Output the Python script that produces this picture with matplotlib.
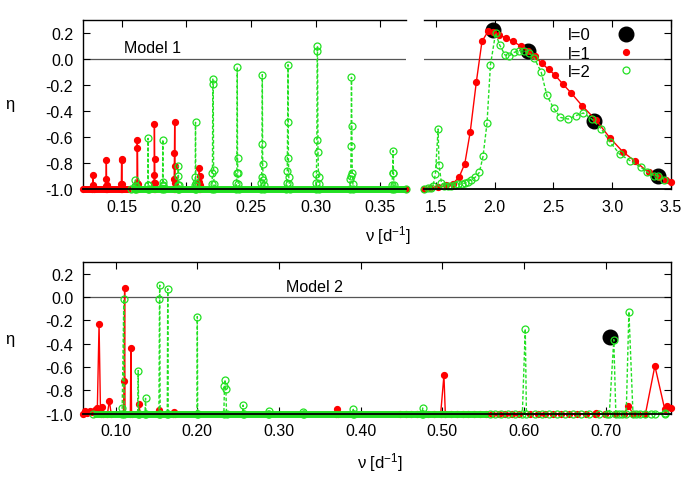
import matplotlib
matplotlib.use('Agg')
import matplotlib.pyplot as plt
from matplotlib.lines import Line2D

plt.rcParams['font.family'] = ['Liberation Sans', 'DejaVu Sans']
plt.rcParams['axes.unicode_minus'] = False
plt.rcParams['mathtext.default'] = 'regular'

RED = '#ff0000'
GREEN = '#22e022'

# ---------------- Model 1, low frequencies ----------------
m1lo_l1_x = [0.1200,
             0.1273, 0.1275, 0.1278, 0.1281, 0.1283,
             0.1375, 0.1377, 0.1379, 0.1381, 0.1383, 0.1385,
             0.1495, 0.1497, 0.1499, 0.1501, 0.1503, 0.1505,
             0.1616, 0.1618, 0.1620, 0.1622, 0.1624, 0.1626,
             0.1747, 0.1749, 0.1751, 0.1753, 0.1755, 0.1757, 0.1759,
             0.1904, 0.1906, 0.1908, 0.1910, 0.1912, 0.1914, 0.1916,
             0.2096, 0.2098, 0.2100, 0.2102, 0.2104, 0.2106,
             0.3700]
m1lo_l1_y = [-1.0,
             -1.0, -0.97, -0.892, -0.975, -1.0,
             -1.0, -0.975, -0.923, -0.774, -0.97, -1.0,
             -1.0, -0.96, -0.775, -0.769, -0.96, -1.0,
             -1.0, -0.95, -0.626, -0.687, -0.96, -1.0,
             -1.0, -0.95, -0.89, -0.50, -0.769, -0.95, -1.0,
             -1.0, -0.923, -0.723, -0.482, -0.82, -0.95, -1.0,
             -1.0, -0.944, -0.838, -0.897, -0.97, -1.0,
             -1.0]
m1lo_l1_band = [0.120, 0.157]

m1lo_l2_x = [0.1570,
             0.1602, 0.1604, 0.1606, 0.1608, 0.1610,
             0.1700, 0.1702, 0.1704, 0.1706, 0.1708,
             0.1814, 0.1816, 0.1818, 0.1820, 0.1822, 0.1824,
             0.1932, 0.1934, 0.1936, 0.1938, 0.1940, 0.1942,
             0.2065, 0.2067, 0.2069, 0.2071, 0.2073, 0.2075, 0.2077,
             0.2196, 0.2199, 0.2202, 0.2205, 0.2208, 0.2211, 0.2214, 0.2217,
             0.2385, 0.2388, 0.2391, 0.2394, 0.2396, 0.2399, 0.2402, 0.2405,
             0.2577, 0.2580, 0.2583, 0.2586, 0.2588, 0.2591, 0.2594, 0.2598, 0.2601,
             0.2775, 0.2778, 0.2781, 0.2784, 0.2787, 0.2790, 0.2793, 0.2797, 0.2800,
             0.3000, 0.3003, 0.3007, 0.3010, 0.3013, 0.3015, 0.3019, 0.3023, 0.3027, 0.3030,
             0.3265, 0.3268, 0.3272, 0.3275, 0.3278, 0.3281, 0.3284, 0.3289, 0.3292,
             0.3589, 0.3592, 0.3596, 0.3600, 0.3603, 0.3607, 0.3610,
             0.3700]
m1lo_l2_y = [-1.0,
             -1.0, -0.98, -0.93, -0.98, -1.0,
             -1.0, -0.97, -0.61, -0.97, -1.0,
             -1.0, -0.97, -0.62, -0.944, -0.98, -1.0,
             -1.0, -0.97, -0.897, -0.82, -0.97, -1.0,
             -1.0, -0.97, -0.905, -0.487, -0.95, -0.98, -1.0,
             -1.0, -0.96, -0.88, -0.154, -0.192, -0.854, -0.96, -1.0,
             -1.0, -0.95, -0.88, -0.064, -0.764, -0.88, -0.96, -1.0,
             -1.0, -0.95, -0.91, -0.656, -0.12, -0.808, -0.93, -0.97, -1.0,
             -1.0, -0.95, -0.862, -0.482, -0.044, -0.759, -0.91, -0.96, -1.0,
             -1.0, -0.95, -0.885, -0.626, 0.062, 0.10, -0.718, -0.905, -0.96, -1.0,
             -1.0, -0.92, -0.897, -0.667, -0.141, -0.518, -0.877, -0.96, -1.0,
             -1.0, -0.97, -0.877, -0.705, -0.877, -0.97, -1.0,
             -1.0]
m1lo_l2_band = [0.157, 0.370]

# ---------------- Model 1, high frequencies ----------------
m1hi_l0_x = [1.985, 2.285, 2.845, 3.388]
m1hi_l0_y = [0.220, 0.062, -0.480, -0.900]

m1hi_l1_x = [1.40, 1.45, 1.52, 1.59, 1.643, 1.698, 1.747, 1.793, 1.845, 1.893,
             1.945, 1.985, 2.037, 2.095, 2.158, 2.222, 2.284, 2.342, 2.402,
             2.46, 2.51, 2.578, 2.649, 2.747, 2.865, 2.982, 3.09, 3.195, 3.31,
             3.40, 3.46, 3.50]
m1hi_l1_y = [-1.0, -0.995, -0.987, -0.97, -0.96, -0.91, -0.805, -0.562,
             -0.177, 0.135, 0.213, 0.21, 0.186, 0.163, 0.135, 0.10, 0.06,
             0.02, -0.033, -0.08, -0.12, -0.19, -0.259, -0.362, -0.472,
             -0.608, -0.713, -0.787, -0.872, -0.905, -0.933, -0.945]

m1hi_l2_x = [1.40, 1.43, 1.46, 1.477, 1.497, 1.52, 1.528, 1.548, 1.57, 1.60,
             1.63, 1.66, 1.69, 1.72, 1.745, 1.77, 1.80, 1.835, 1.871, 1.902,
             1.936, 1.965, 2.009, 2.043, 2.089, 2.123, 2.166, 2.21, 2.248,
             2.29, 2.339, 2.397, 2.445, 2.503, 2.56, 2.626, 2.69, 2.755,
             2.827, 2.908, 2.98, 3.063, 3.152, 3.244, 3.30, 3.353, 3.393,
             3.445]
m1hi_l2_y = [-1.0, -0.995, -0.99, -0.974, -0.885, -0.538, -0.815, -0.95,
             -0.975, -0.975, -0.975, -0.97, -0.965, -0.96, -0.955, -0.945,
             -0.93, -0.91, -0.872, -0.749, -0.492, -0.046, 0.20, 0.108, 0.031,
             0.023, 0.051, 0.064, 0.064, 0.05, 0.005, -0.103, -0.28, -0.38,
             -0.449, -0.462, -0.436, -0.415, -0.462, -0.538, -0.636, -0.731,
             -0.782, -0.833, -0.87, -0.897, -0.90, -0.928]

# ---------------- Model 2 ----------------
m2_l0_x = [0.7054]
m2_l0_y = [-0.344]

m2_l1_x = [0.0600, 0.0624, 0.0650, 0.0680, 0.0707, 0.0747, 0.0776, 0.0797,
           0.0815, 0.0833, 0.0850, 0.0900, 0.0923, 0.0945, 0.1095, 0.1105,
           0.1110, 0.1115, 0.1180, 0.1187, 0.1195, 0.1280, 0.1289, 0.1298,
           0.1520, 0.1530, 0.1540, 0.1705, 0.1715, 0.1725, 0.3700, 0.3710,
           0.3720, 0.4980, 0.5020, 0.5037, 0.6866, 0.6876, 0.6886, 0.7220,
           0.7280, 0.7335, 0.7488, 0.7603, 0.7723, 0.7756, 0.7800]
m2_l1_y = [-1.0, -0.98, -0.99, -0.975, -0.989, -0.966, -0.954, -0.229,
           -1.0, -0.945, -1.0, -1.0, -0.888, -1.0, -1.0, -0.716,
           0.080, -1.0, -1.0, -0.436, -1.0, -1.0, -0.917, -1.0,
           -1.0, -0.970, -1.0, -1.0, -0.986, -1.0, -1.0, -0.957,
           -1.0, -1.0, -0.671, -1.0, -1.0, -0.994, -1.0, -1.0,
           -0.937, -1.0, -1.0, -0.590, -0.960, -0.937, -0.950]
m2_l1_floor_x = [0.448, 0.455, 0.462, 0.469, 0.476, 0.483, 0.490, 0.511,
                 0.518, 0.525, 0.532, 0.539, 0.546, 0.553, 0.561, 0.569,
                 0.577, 0.585, 0.594, 0.608, 0.617, 0.626, 0.635, 0.645,
                 0.655, 0.665, 0.676, 0.699, 0.711, 0.740]

m2_l2_x = [0.0726, 0.1075, 0.1080, 0.1100, 0.1105, 0.1270, 0.1276, 0.1282,
           0.1360, 0.1366, 0.1372, 0.1530, 0.1537, 0.1540, 0.1545, 0.1632,
           0.1638, 0.1644, 0.1995, 0.2000, 0.2005, 0.2325, 0.2333, 0.2341,
           0.2350, 0.2358, 0.2555, 0.2561, 0.2567, 0.2868, 0.2874, 0.2880,
           0.3294, 0.3300, 0.3306, 0.3904, 0.3910, 0.3916, 0.4754, 0.4760,
           0.4766, 0.5980, 0.6016, 0.6030, 0.7045, 0.7100, 0.7125, 0.7252,
           0.7285, 0.7335, 0.7730]
m2_l2_y = [-1.0, -1.0, -0.954, -0.017, -1.0, -1.0, -0.630, -1.0,
           -1.0, -0.868, -1.0, -1.0, -0.017, 0.103, -1.0, -1.0,
           0.072, -1.0, -1.0, -0.166, -1.0, -1.0, -0.759, -0.708,
           -0.788, -1.0, -1.0, -0.926, -1.0, -1.0, -0.977, -1.0,
           -1.0, -0.989, -1.0, -1.0, -0.963, -1.0, -1.0, -0.951,
           -1.0, -1.0, -0.271, -1.0, -1.0, -0.364, -1.0, -1.0,
           -0.123, -1.0, -0.990]
m2_l2_band = [0.0726, 0.556]
m2_l2_floor_x = [0.558, 0.565, 0.572, 0.580, 0.589, 0.614, 0.622, 0.631,
                 0.640, 0.650, 0.660, 0.670, 0.680, 0.692, 0.702, 0.716,
                 0.720, 0.737, 0.742, 0.748, 0.755, 0.760, 0.773]

FS = 11.5


def style_axes(ax, xlim, left, right):
    ax.set_xlim(xlim)
    ax.set_ylim(-1.0, 0.3)
    ax.axhline(0.0, color='#555555', lw=0.9, zorder=1)
    ax.tick_params(direction='in', length=5, top=True, left=left, right=right,
                   labelleft=left, labelsize=FS, pad=7)
    ax.spines['left'].set_visible(left)
    ax.spines['right'].set_visible(right)
    for s in ax.spines.values():
        s.set_linewidth(1.0)
    ax.spines['bottom'].set_linewidth(1.3)
    ax.spines['bottom'].set_zorder(6)
    ax.set_yticks([0.2, 0.0, -0.2, -0.4, -0.6, -0.8, -1.0])
    ax.set_yticklabels(['%.1f' % v for v in [0.2, 0.0, -0.2, -0.4, -0.6, -0.8, -1.0]])


def red_series(ax, x, y):
    ax.plot(x, y, color=RED, lw=1.0, marker='o', ms=4.2, mfc=RED, mec=RED,
            zorder=3, clip_on=False)


def green_series(ax, x, y):
    ax.plot(x, y, color=GREEN, lw=1.0, ls=(0, (2.5, 1.5)), marker='o', ms=5,
            mfc='none', mec=GREEN, mew=0.9, zorder=4, clip_on=False)


def band(ax, span, color, z):
    ax.plot(span, [-1.0, -1.0], color=color, lw=5, solid_capstyle='butt',
            zorder=z, clip_on=False)


fig = plt.figure(figsize=(6.92, 4.85), dpi=100)
ax1 = fig.add_axes([0.1199, 0.6082, 0.4668, 0.3485])
ax2 = fig.add_axes([0.6127, 0.6082, 0.3569, 0.3485])
ax3 = fig.add_axes([0.1199, 0.1450, 0.8497, 0.3122])

# Model 1 low frequency panel
style_axes(ax1, (0.12, 0.37), True, False)
band(ax1, m1lo_l1_band, RED, 3)
red_series(ax1, m1lo_l1_x, m1lo_l1_y)
band(ax1, m1lo_l2_band, GREEN, 4)
green_series(ax1, m1lo_l2_x, m1lo_l2_y)
ax1.set_xticks([0.15, 0.20, 0.25, 0.30, 0.35])
ax1.set_xticklabels(['%.2f' % v for v in [0.15, 0.20, 0.25, 0.30, 0.35]])
ax1.text(0.214, 0.84, 'Model 1', transform=ax1.transAxes, fontsize=FS,
         ha='center', va='center')

# Model 1 high frequency panel
style_axes(ax2, (1.4, 3.5), False, True)
ax2.plot(m1hi_l0_x, m1hi_l0_y, ls='none', marker='o', ms=10.5, color='black',
         zorder=2, clip_on=False)
red_series(ax2, m1hi_l1_x, m1hi_l1_y)
green_series(ax2, m1hi_l2_x, m1hi_l2_y)
ax2.set_xticks([1.5, 2.0, 2.5, 3.0, 3.5])
ax2.set_xticklabels(['%.1f' % v for v in [1.5, 2.0, 2.5, 3.0, 3.5]])

handles = [Line2D([], [], ls='none', marker='o', ms=10.5, color='black'),
           Line2D([], [], ls='none', marker='o', ms=4.2, color=RED),
           Line2D([], [], ls='none', marker='o', ms=5, mfc='none', mec=GREEN, mew=0.9)]
ax2.legend(handles, ['l=0', 'l=1', 'l=2'], loc='upper left',
           bbox_to_anchor=(0.55, 1.005), frameon=False, markerfirst=False,
           fontsize=FS + 0.5, handlelength=1.2, handletextpad=1.5,
           labelspacing=0.2, borderpad=0.0)

# Model 2 panel
style_axes(ax3, (0.06, 0.78), True, True)
ax3.plot(m2_l0_x, m2_l0_y, ls='none', marker='o', ms=10.5, color='black',
         zorder=2, clip_on=False)
red_series(ax3, m2_l1_x, m2_l1_y)
ax3.plot(m2_l1_floor_x, [-1.0] * len(m2_l1_floor_x), ls='none', marker='o',
         ms=4.2, color=RED, zorder=3, clip_on=False)
band(ax3, m2_l2_band, GREEN, 4)
green_series(ax3, m2_l2_x, m2_l2_y)
ax3.plot(m2_l2_floor_x, [-1.0] * len(m2_l2_floor_x), ls='none', marker='o',
         ms=5, mfc='none', mec=GREEN, mew=0.9, zorder=4, clip_on=False)
ax3.set_xticks([0.1, 0.2, 0.3, 0.4, 0.5, 0.6, 0.7])
ax3.set_xticklabels(['%.2f' % v for v in [0.1, 0.2, 0.3, 0.4, 0.5, 0.6, 0.7]])
ax3.text(0.393, 0.843, 'Model 2', transform=ax3.transAxes, fontsize=FS,
         ha='center', va='center')

# axis labels
fig.text(0.561, 0.515, r'ν [d$^{-1}$]', fontsize=FS + 0.5, ha='center', va='center')
fig.text(0.549, 0.047, r'ν [d$^{-1}$]', fontsize=FS + 0.5, ha='center', va='center')
fig.text(0.0145, 0.784, 'η', fontsize=FS + 0.5, ha='center', va='center')
fig.text(0.0145, 0.299, 'η', fontsize=FS + 0.5, ha='center', va='center')

fig.savefig('out.png', dpi=100)
